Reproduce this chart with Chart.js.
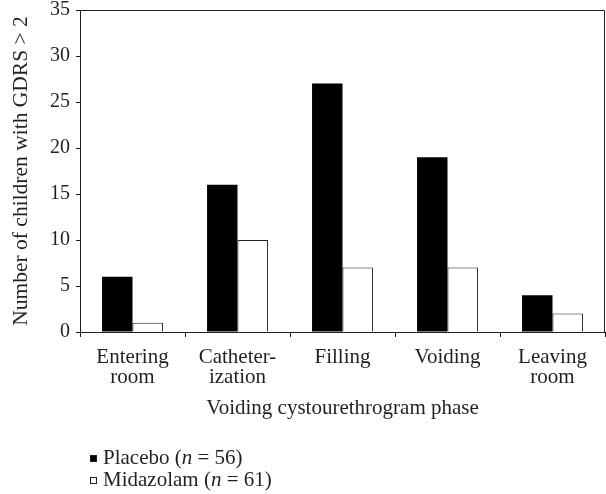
<!DOCTYPE html>
<html>
<head>
<meta charset="utf-8">
<script src="https://cdn.jsdelivr.net/npm/chart.js@4.4.1/dist/chart.umd.min.js"></script>
<style>
  html, body { margin: 0; padding: 0; background: #fff; }
  #wrap { width: 606px; height: 494px; position: relative; }
</style>
</head>
<body>
<div id="wrap"><canvas id="chart"></canvas></div>
<script>
// phases of the voiding cystourethrogram
const phases = [['Entering', 'room'], ['Catheter-', 'ization'], 'Filling', 'Voiding', ['Leaving', 'room']];
// children with GDRS > 2
const placebo = [6, 16, 27, 19, 4];
const midazolam = [1, 10, 7, 7, 2];
const groupNames = ['Placebo', 'Midazolam'];
const groupN = [56, 61];
const yTicks = [0, 5, 10, 15, 20, 25, 30, 35];

const ink = '#231f20';
const serif = '"Liberation Serif", "Times New Roman", serif';

// top and right border of the plot + legend under the axis title
const boxAndLegend = {
    id: 'boxAndLegend',
    afterDraw(chart) {
        const { ctx, chartArea } = chart;
        ctx.save();
        ctx.strokeStyle = ink;
        ctx.lineWidth = 1;
        ctx.beginPath();
        ctx.moveTo(chartArea.left, chartArea.top + 0.5);
        ctx.lineTo(chartArea.right - 0.5, chartArea.top + 0.5);
        ctx.lineTo(chartArea.right - 0.5, chartArea.bottom);
        ctx.stroke();

        const rows = [458, 480];
        chart.data.datasets.forEach((ds, i) => {
            const y = rows[i];
            ctx.fillStyle = ds.backgroundColor;
            ctx.fillRect(90, y - 3, 7, 7);
            ctx.strokeStyle = ink;
            ctx.lineWidth = 1;
            ctx.strokeRect(90.5, y - 2.5, 6, 6);

            ctx.fillStyle = ink;
            ctx.textBaseline = 'middle';
            let x = 103;
            const parts = [[groupNames[i] + ' (', 'normal'], ['n', 'italic'], [' = ' + groupN[i] + ')', 'normal']];
            parts.forEach(([txt, style]) => {
                ctx.font = style + ' 21px ' + serif;
                ctx.fillText(txt, x, y);
                x += ctx.measureText(txt).width;
            });
        });
        ctx.restore();
    }
};

new Chart(document.getElementById('chart'), {
    type: 'bar',
    data: {
        labels: phases,
        datasets: [{
            label: groupNames[0],
            data: placebo,
            backgroundColor: '#000000',
            borderColor: ink,
            borderWidth: 0
        }, {
            label: groupNames[1],
            data: midazolam,
            backgroundColor: '#ffffff',
            borderColor: ink,
            borderWidth: 1
        }]
    },
    options: {
        responsive: true,
        maintainAspectRatio: false,
        animation: false,
        layout: { padding: { top: 10, right: 1, bottom: 72, left: 0 } },
        datasets: { bar: { barPercentage: 1, categoryPercentage: 0.58 } },
        plugins: {
            legend: { display: false },
            tooltip: { enabled: false }
        },
        scales: {
            x: {
                offset: true,
                border: { color: ink, width: 1 },
                grid: { offset: true, drawOnChartArea: false, drawTicks: true, tickLength: 5, color: ink },
                ticks: {
                    color: ink,
                    padding: 10,
                    maxRotation: 0,
                    autoSkip: false,
                    font: { family: serif, size: 21, lineHeight: 0.98 }
                },
                title: {
                    display: true,
                    text: 'Voiding cystourethrogram phase',
                    color: ink,
                    padding: { top: 0, bottom: 1 },
                    font: { family: serif, size: 21, lineHeight: 1.2 }
                },
                afterFit(scale) { scale.height = 90; }
            },
            y: {
                min: 0,
                max: 35,
                border: { color: ink, width: 1 },
                grid: { drawOnChartArea: false, drawTicks: true, tickLength: 4, color: ink },
                afterBuildTicks(scale) { scale.ticks = yTicks.map(v => ({ value: v })); },
                ticks: {
                    color: ink,
                    padding: 6,
                    font: { family: serif, size: 20, lineHeight: 1.0 }
                },
                title: {
                    display: true,
                    text: 'Number of children with GDRS > 2',
                    color: ink,
                    padding: { top: 8, bottom: 0 },
                    font: { family: serif, size: 21.5, lineHeight: 1.2 }
                },
                afterFit(scale) {
                    scale.width = 80;
                    scale.paddingTop = 0;
                    scale.paddingBottom = 0;
                }
            }
        }
    },
    plugins: [boxAndLegend]
});
</script>
</body>
</html>
